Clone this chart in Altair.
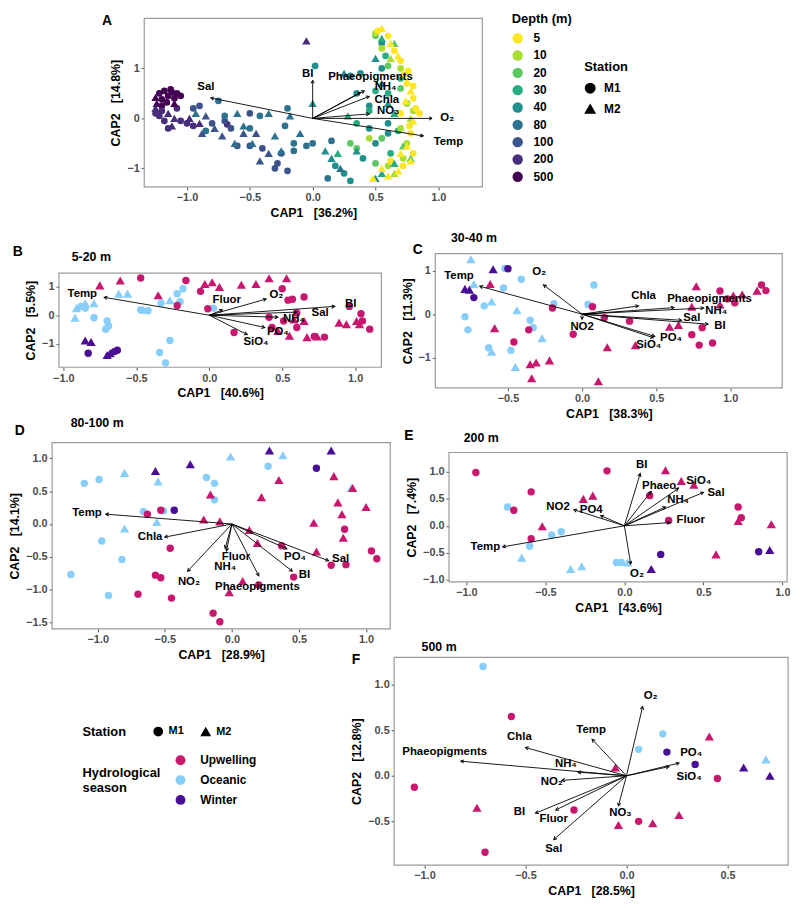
import altair as alt
import numpy as np
import pandas as pd

FONT = "Liberation Sans"

# ---------------- categories / colours ----------------
SEASON_DOMAIN = ["Upwelling", "Oceanic", "Winter"]
SEASON_COLORS = ["#C8176F", "#87CEFA", "#4A0E96"]
DEPTH_DOMAIN = ["5", "10", "20", "30", "40", "80", "100", "200", "500"]
DEPTH_COLORS = ["#FDE725", "#AADC32", "#5DC863", "#27AD81", "#21908C",
                "#2C728E", "#3B528B", "#472D7B", "#440154"]
STATION_DOMAIN = ["M1", "M2"]
STATION_SHAPES = ["circle", "triangle-up"]

# ---------------- Panel A (all depths) ----------------
A_500 = [(-1.22, 0.50, "M1"), (-1.18, 0.55, "M1"), (-1.15, 0.45, "M1"), (-1.12, 0.52, "M1"),
         (-1.10, 0.40, "M1"), (-1.20, 0.38, "M1"), (-1.25, 0.42, "M2"), (-1.16, 0.32, "M1"),
         (-1.08, 0.50, "M1"), (-1.13, 0.58, "M1"), (-1.24, 0.30, "M2"), (-1.20, 0.25, "M1"),
         (-1.10, 0.30, "M2"), (-1.05, 0.45, "M1")]
A_200 = [(-1.25, 0.20, "M2"), (-1.20, 0.15, "M1"), (-1.15, 0.10, "M2"), (-1.22, 0.05, "M1"),
         (-1.10, 0.00, "M2"), (-1.18, -0.05, "M1"), (-1.05, -0.05, "M1"), (-1.12, -0.15, "M2"),
         (-1.00, -0.10, "M1"), (-1.08, 0.20, "M1"), (-0.98, 0.00, "M2"), (-1.15, -0.20, "M1"),
         (-0.95, -0.15, "M1"), (-1.25, 0.10, "M1"), (-0.90, -0.10, "M2"), (-0.68, -0.12, "M1"),
         (-0.05, 1.55, "M2")]
A_100 = [(-0.95, 0.20, "M1"), (-0.90, 0.25, "M1"), (-0.85, 0.05, "M2"), (-0.80, -0.10, "M1"),
         (-0.78, -0.20, "M2"), (-0.70, -0.05, "M1"), (-0.65, -0.20, "M1"), (-0.55, -0.30, "M2"),
         (-0.50, -0.55, "M1"), (-0.45, -0.30, "M2"), (-0.42, -0.85, "M2"), (-0.40, -0.60, "M1"),
         (-0.35, -0.70, "M2"), (-0.28, -0.90, "M1"), (-0.25, -0.70, "M1"), (-0.20, -1.05, "M1"),
         (-0.30, -1.00, "M1"), (-0.60, -0.55, "M1"), (-0.88, -0.30, "M2"), (-0.50, 0.10, "M1"),
         (-0.72, -0.35, "M2")]
A_80 = [(-0.93, 0.10, "M2"), (-0.75, 0.35, "M1"), (-0.70, 0.05, "M1"), (-0.60, 0.10, "M2"),
        (-0.55, -0.15, "M2"), (-0.50, -0.20, "M1"), (-0.48, -0.50, "M2"), (-0.42, 0.05, "M1"),
        (-0.35, 0.10, "M2"), (-0.30, -0.35, "M2"), (-0.22, -0.15, "M1"), (-0.20, 0.20, "M1"),
        (-0.15, -0.50, "M1"), (-0.15, -0.65, "M1"), (-0.05, -0.55, "M1"), (0.00, -0.50, "M1"),
        (-0.25, -0.65, "M2"), (-0.10, -0.30, "M2"), (-0.18, 0.05, "M2"), (-0.62, -0.50, "M2"),
        (-0.85, -0.25, "M1"), (0.15, -0.45, "M1"), (0.12, -1.20, "M1"), (0.22, -1.00, "M2")]
A_40 = [(0.02, 1.05, "M1"), (0.00, 0.30, "M2"), (0.10, -0.65, "M2"), (0.15, -0.80, "M2"),
        (0.18, -0.95, "M1"), (0.25, -1.10, "M1"), (0.30, -1.25, "M1"), (0.35, -0.65, "M2"),
        (0.40, -0.80, "M1"), (0.45, -0.20, "M1"), (0.50, -0.50, "M1"), (0.30, 0.85, "M1"),
        (0.38, 0.90, "M1"), (0.45, 0.25, "M1"), (0.55, 0.70, "M2"), (0.50, 1.20, "M2"),
        (0.55, 1.50, "M1"), (0.60, 0.30, "M2"), (0.60, -0.10, "M1"), (0.50, -1.20, "M2"),
        (0.35, 0.50, "M1"), (0.25, 0.90, "M2"), (0.55, 1.00, "M1"), (0.60, -0.30, "M1")]
A_30 = [(0.28, 0.05, "M2"), (0.20, -0.70, "M2"), (0.35, -0.10, "M1"), (0.45, 0.15, "M1"),
        (0.50, 0.55, "M1"), (0.55, 1.60, "M2"), (0.58, 1.25, "M1"), (0.62, -0.70, "M1"),
        (0.65, -0.90, "M2"), (0.55, -1.10, "M2"), (0.60, 0.50, "M1"), (0.65, 0.10, "M2"),
        (0.70, 0.80, "M1"), (0.68, -0.25, "M1")]
A_20 = [(0.30, -0.50, "M1"), (0.35, -0.60, "M1"), (0.50, 1.65, "M1"), (0.65, 1.50, "M2"),
        (0.70, 0.60, "M1"), (0.72, -0.55, "M2"), (0.55, -0.40, "M1"), (0.50, -0.90, "M1"),
        (0.75, 0.30, "M1"), (0.78, -0.80, "M2"), (0.60, 1.05, "M1")]
A_10 = [(0.50, 1.70, "M1"), (0.55, 1.40, "M1"), (0.62, 1.20, "M2"), (0.70, 1.00, "M1"),
        (0.75, 0.30, "M1"), (0.78, 0.00, "M2"), (0.70, -0.20, "M1"), (0.72, -0.80, "M1"),
        (0.65, -1.10, "M2"), (0.80, 0.15, "M1"), (0.75, -0.50, "M1"), (0.60, -0.95, "M1"),
        (0.45, -0.40, "M1")]
A_5 = [(0.55, 1.80, "M2"), (0.60, 1.65, "M1"), (0.65, 1.35, "M1"), (0.70, 1.15, "M1"),
       (0.72, 0.90, "M2"), (0.75, 0.70, "M1"), (0.78, 0.55, "M2"), (0.80, 0.40, "M1"),
       (0.82, 0.20, "M1"), (0.80, -0.05, "M2"), (0.78, -0.30, "M1"), (0.75, -0.55, "M2"),
       (0.80, -0.70, "M1"), (0.72, -0.95, "M1"), (0.68, -1.05, "M2"), (0.60, -1.15, "M2"),
       (0.55, -1.00, "M2"), (0.78, -0.85, "M2"), (0.85, 0.10, "M1"), (0.70, 0.10, "M1"),
       (0.52, 1.75, "M1"), (0.62, 1.50, "M2"), (0.68, 1.25, "M2"), (0.76, 0.95, "M1"),
       (0.80, 0.65, "M1"), (0.74, 0.35, "M2"), (0.77, -0.15, "M1"), (0.70, -0.70, "M2"),
       (0.62, -0.85, "M1"), (0.48, -1.20, "M2")]
A_VEC = [("Sal", -0.81, 0.41, -0.85, 0.62), ("BI", 0.00, 0.76, -0.04, 0.88),
         ("Phaeopigments", 0.38, 0.52, 0.46, 0.83), ("NH₄", 0.41, 0.55, 0.58, 0.63),
         ("Chla", 0.45, 0.44, 0.59, 0.37), ("NO₃", 0.45, 0.09, 0.60, 0.14),
         ("O₂", 0.95, 0.00, 1.07, 0.00), ("Temp", 0.88, -0.35, 1.08, -0.47)]

# ---------------- Panel B (5-20 m) ----------------
B_UP_M1 = [(-0.47, 1.31), (-0.16, 1.22), (-0.22, 0.34), (-0.06, 0.84), (-0.01, 0.23), (0.17, -0.61),
           (0.41, -0.07), (0.50, 0.93), (0.54, 0.53), (0.57, 0.56), (0.65, 0.64), (0.51, -0.20),
           (0.60, -0.43), (0.72, -0.75), (0.79, -0.77), (0.96, 0.31), (1.04, 0.05), (1.05, -0.20),
           (1.10, -0.49), (0.43, -0.43), (0.60, 0.08)]
B_UP_M2 = [(-0.75, 1.05), (-0.61, 1.22), (-0.35, 0.70), (-0.03, 1.10), (0.02, 1.16), (0.07, 0.99),
           (0.22, 1.07), (0.32, 1.10), (0.41, 1.30), (0.53, 1.30), (0.58, -0.15), (0.65, -0.20),
           (0.55, -0.72), (0.67, -0.77), (0.74, -0.75), (0.89, -0.26), (0.94, -0.32), (1.01, -0.20),
           (1.03, -0.32), (0.47, -0.55)]
B_OC_M1 = [(-0.88, 0.31), (-0.85, 0.25), (-0.79, -0.09), (-0.70, -0.20), (-0.69, -0.38), (-0.71, -0.49),
           (-0.47, 0.19), (-0.42, 0.16), (-0.33, 0.42), (-0.22, 0.76), (-0.18, 0.93), (-0.20, 0.48),
           (-0.27, -0.89), (-0.34, -1.31), (-0.30, -1.68), (0.03, 0.25)]
B_OC_M2 = [(-0.91, 0.25), (-0.85, 0.42), (-0.79, 0.42), (-0.92, -0.09), (-0.62, 0.76), (-0.56, 0.76),
           (-0.45, 0.19), (-0.27, 0.53)]
B_WI_M1 = [(-0.83, -1.34), (-0.65, -1.28), (-0.63, -1.23)]
B_WI_M2 = [(-0.85, -0.89), (-0.81, -0.94), (-0.70, -1.40), (-0.68, -1.34)]
B_VEC = [("Temp", -0.72, 0.63, -0.87, 0.76), ("Fluor", 0.09, 0.19, 0.12, 0.53),
         ("O₂", 0.39, 0.57, 0.46, 0.70), ("BI", 0.86, 0.31, 0.97, 0.39),
         ("Sal", 0.60, 0.11, 0.76, 0.08), ("NH₄", 0.47, -0.07, 0.58, -0.13),
         ("PO₄", 0.38, -0.43, 0.47, -0.58), ("SiO₄", 0.26, -0.68, 0.32, -0.94)]

# ---------------- Panel C (30-40 m) ----------------
C_UP_M1 = [(-0.20, 0.14), (-0.36, -0.36), (-0.46, -0.64), (-0.06, -0.46), (0.07, 0.17), (0.15, -0.08),
           (0.32, -0.16), (0.74, -0.47), (0.79, -0.71), (0.81, -0.31), (0.88, -0.66), (0.93, 0.53),
           (0.98, 0.35), (1.03, 0.26), (1.21, 0.67), (1.24, 0.54)]
C_UP_M2 = [(-0.62, 0.69), (-0.59, -0.32), (-0.35, -1.15), (-0.31, -1.11), (-0.22, -1.06), (-0.34, -1.47),
           (0.11, -1.54), (0.17, -0.76), (0.36, -0.71), (0.59, -0.29), (0.65, -0.25), (0.77, 0.64),
           (0.74, 0.17), (0.93, 0.22), (1.02, 0.43), (1.18, 0.54), (1.08, 0.45)]
C_OC_M1 = [(-0.52, 1.05), (-0.41, 0.80), (-0.53, 0.60), (-0.66, 0.19), (-0.79, -0.06), (-0.77, -0.36),
           (-0.35, -0.14), (-0.33, -0.31), (-0.63, -0.77), (-0.48, -0.83), (-0.19, 0.24), (0.08, 0.67),
           (0.04, 0.22)]
C_OC_M2 = [(-0.75, 1.26), (-0.73, 0.69), (-0.61, 0.29), (-0.44, 0.09), (-0.27, -0.55), (-0.61, -0.86),
           (-0.45, -1.21)]
C_WI_M1 = [(-0.50, 1.04), (-0.73, 0.38)]
C_WI_M2 = [(-0.60, 1.03), (-0.79, 0.58), (-0.76, 0.56)]
C_VEC = [("Temp", -0.69, 0.64, -0.83, 0.88), ("O₂", -0.26, 0.67, -0.29, 0.97),
         ("Chla", 0.38, 0.19, 0.415, 0.41), ("Phaeopigments", 0.62, 0.15, 0.86, 0.35),
         ("NH₄", 0.82, 0.14, 0.905, 0.075), ("Sal", 0.67, -0.14, 0.74, -0.08),
         ("BI", 0.85, -0.23, 0.93, -0.27), ("PO₄", 0.49, -0.51, 0.60, -0.55),
         ("SiO₄", 0.48, -0.54, 0.45, -0.71), ("NO2", 0.00, -0.12, 0.00, -0.30)]

# ---------------- Panel D (80-100 m) ----------------
D_UP_M1 = [(-0.63, 0.15), (-0.53, 0.21), (-0.46, -0.37), (-0.57, -0.78), (-0.53, -0.82), (-0.70, -1.07),
           (-0.45, -1.13), (-0.14, -1.36), (-0.09, -1.49), (0.20, -0.93), (0.37, -0.33), (0.46, -0.81),
           (0.74, -0.63), (0.85, -0.62), (0.84, -0.08), (1.04, -0.41), (1.08, -0.53)]
D_UP_M2 = [(-0.16, 0.45), (-0.21, 0.07), (-0.09, 0.04), (0.13, -0.09), (0.19, -0.29), (0.08, -0.87),
           (-0.02, -1.04), (0.22, 0.41), (0.35, 0.67), (0.76, 0.73), (0.79, 0.33), (0.82, 0.15),
           (0.83, -0.21), (0.63, -0.42), (0.61, 0.02), (1.00, 0.26), (0.90, 0.55)]
D_OC_M1 = [(-1.10, 0.62), (-0.99, 0.68), (-0.19, 0.71), (-0.13, 0.62), (-0.13, 0.37), (0.27, 0.88),
           (-0.66, 0.19), (-0.51, 0.20), (-0.97, -0.26), (-0.82, -0.54), (-1.20, -0.77), (-0.92, -1.09)]
D_OC_M2 = [(-0.80, -0.07), (-0.80, 0.78), (-0.55, 0.65), (-0.56, 0.03), (-0.01, 1.03), (0.38, 1.05),
           (0.89, 0.55)]
D_WI_M1 = [(-0.43, 0.21), (0.63, 0.85)]
D_WI_M2 = [(-0.57, 0.81), (-0.31, 0.91), (0.28, 1.12), (0.74, 1.12)]
D_VEC = [("Temp", -0.94, 0.15, -1.08, 0.16), ("Chla", -0.50, -0.20, -0.61, -0.205),
         ("NO₂", -0.33, -0.72, -0.32, -0.88), ("Fluor", -0.04, -0.41, 0.03, -0.50),
         ("NH₄", -0.05, -0.37, -0.05, -0.655), ("Phaeopigments", 0.20, -0.79, 0.19, -0.955),
         ("PO₄", 0.41, -0.38, 0.47, -0.50), ("BI", 0.45, -0.72, 0.54, -0.78),
         ("Sal", 0.72, -0.56, 0.81, -0.53)]

# ---------------- Panel E (200 m) ----------------
E_UP_M1 = [(-0.94, 0.99), (-0.59, 0.63), (-0.70, 0.29), (-0.11, 1.02), (0.16, 0.56), (0.28, 0.10),
           (0.72, 0.35), (0.74, 0.15), (-0.59, -0.24)]
E_UP_M2 = [(-0.26, 0.50), (-0.20, 0.56), (-0.52, -0.01), (0.26, 1.03), (0.36, 0.83), (0.44, 0.76),
           (0.72, 0.09), (0.93, 0.03), (0.58, -0.53)]
E_OC_M1 = [(-0.74, 0.35), (-0.46, -0.17), (-0.40, -0.11), (-0.60, -0.38), (-0.05, -0.68), (-0.02, -0.68)]
E_OC_M2 = [(-0.65, -0.59), (-0.34, -0.80), (-0.27, -0.75), (0.02, -0.68)]
E_WI_M1 = [(0.23, -0.53), (0.85, -0.48)]
E_WI_M2 = [(0.17, -0.80), (0.92, -0.45)]
E_VEC = [("BI", 0.10, 0.97, 0.11, 1.12), ("Phaeo.", 0.17, 0.64, 0.23, 0.73),
         ("SiO₄", 0.34, 0.69, 0.47, 0.84), ("Sal", 0.50, 0.62, 0.58, 0.61),
         ("NH₄", 0.26, 0.35, 0.34, 0.47), ("Fluor", 0.29, 0.06, 0.42, 0.10),
         ("NO2", -0.32, 0.30, -0.42, 0.35), ("PO4", -0.15, 0.19, -0.21, 0.29),
         ("Temp", -0.77, -0.39, -0.88, -0.39), ("O₂", 0.04, -0.71, 0.08, -0.89)]

# ---------------- Panel F (500 m) ----------------
F_UP_M1 = [(-0.57, 0.65), (-1.05, -0.125), (-0.70, -0.84), (-0.26, -0.375), (0.06, -0.50), (0.45, -0.03)]
F_UP_M2 = [(-0.74, -0.35), (-0.055, 0.09), (-0.04, -0.54), (0.13, -0.52), (0.26, -0.43), (0.41, 0.43)]
F_OC_M1 = [(-0.71, 1.20), (0.06, 0.29), (0.18, 0.46)]
F_OC_M2 = [(0.69, 0.18)]
F_WI_M1 = [(0.20, 0.26), (0.34, 0.125)]
F_WI_M2 = [(0.58, 0.09), (0.71, 0.00)]
F_VEC = [("O₂", 0.08, 0.76, 0.12, 0.88), ("Temp", -0.17, 0.40, -0.175, 0.50),
         ("Chla", -0.50, 0.31, -0.53, 0.42), ("Phaeopigments", -0.82, 0.16, -0.90, 0.26),
         ("NH₄", -0.24, 0.04, -0.30, 0.125), ("NO₂", -0.32, -0.05, -0.37, -0.07),
         ("BI", -0.45, -0.41, -0.53, -0.40), ("Fluor", -0.35, -0.375, -0.36, -0.48),
         ("Sal", -0.36, -0.70, -0.36, -0.80), ("NO₃", -0.04, -0.33, -0.03, -0.41),
         ("PO₄", 0.26, 0.14, 0.32, 0.25), ("SiO₄", 0.21, 0.10, 0.31, -0.01)]

# ---------------- canvas geometry (layout only) ----------------
W, H = 788, 891


def tx(r):
    return r * 0.99 - 2


def ty(r):
    return r * 0.99 - 5


ONE = pd.DataFrame({"s": [0]})
CHEVRON = "M-0.55,1L0,0L0.55,1"
SP = "\u00a0\u00a0\u00a0"


def season_df(up1, up2, oc1, oc2, wi1, wi2):
    rows = []
    for season, st, lst in [("Oceanic", "M1", oc1), ("Oceanic", "M2", oc2),
                            ("Winter", "M1", wi1), ("Winter", "M2", wi2),
                            ("Upwelling", "M1", up1), ("Upwelling", "M2", up2)]:
        for x, y in lst:
            rows.append({"x": x, "y": y, "season": season, "station": st})
    return pd.DataFrame(rows)


def depth_df():
    rows = []
    for d, lst in [("500", A_500), ("200", A_200), ("100", A_100), ("80", A_80), ("40", A_40),
                   ("30", A_30), ("20", A_20), ("10", A_10), ("5", A_5)]:
        for x, y, st in lst:
            rows.append({"x": x, "y": y, "depth": d, "station": st})
    return pd.DataFrame(rows)


def panel(pts, vec, xdom, ydom, box, xticks, yticks, xfmt, yfmt, xtitle, ytitle,
          tag, tag_off, sub, sub_off, color, shape, sizes):
    x0, x1, y0, y1 = tx(box[0]), tx(box[1]), ty(box[2]), ty(box[3])
    sx = (x1 - x0) / (xdom[1] - xdom[0])
    sy = (y1 - y0) / (ydom[1] - ydom[0])
    vdf = pd.DataFrame(vec, columns=["name", "x", "y", "lx", "ly"])
    vdf["x0"] = 0.0
    vdf["y0"] = 0.0
    vdf["ang"] = np.degrees(np.arctan2(vdf["x"] * sx, vdf["y"] * sy)) % 360
    ldf = pd.DataFrame({"x": vdf["lx"], "y": vdf["ly"], "name": vdf["name"]})
    frame = pd.DataFrame({"x": [xdom[0]], "x2": [xdom[1]], "y": [ydom[0]], "y2": [ydom[1]]})
    X = alt.X("x:Q", scale=alt.Scale(domain=xdom, range=[x0, x1], nice=False, zero=False),
              axis=alt.Axis(values=xticks, format=xfmt, title=xtitle, orient="bottom",
                            offset=y1 - H))
    Y = alt.Y("y:Q", scale=alt.Scale(domain=ydom, range=[y1, y0], nice=False, zero=False),
              axis=alt.Axis(values=yticks, format=yfmt, title=ytitle, orient="left",
                            offset=-x0))
    border = alt.Chart(frame).mark_rect(fillOpacity=0, stroke="#9a9a9a", strokeWidth=1.2).encode(
        x=X, x2="x2:Q", y=Y, y2="y2:Q")
    circ = alt.Chart(pts[pts["station"] == "M1"]).mark_point(
        filled=True, opacity=1, size=sizes[0]).encode(x=X, y=Y, color=color, shape=shape)
    tri = alt.Chart(pts[pts["station"] == "M2"]).mark_point(
        filled=True, opacity=1, size=sizes[1]).encode(x=X, y=Y, color=color, shape=shape)
    rules = alt.Chart(vdf).mark_rule(color="black", strokeWidth=0.9).encode(
        x=X, y=Y, x2="x0:Q", y2="y0:Q")
    heads = alt.Chart(vdf).mark_point(shape=CHEVRON, filled=False, color="black",
                                      strokeWidth=1, size=36, opacity=1).encode(
        x=X, y=Y, angle=alt.Angle("ang:Q", scale=None))
    labels = alt.Chart(ldf).mark_text(font=FONT, fontSize=11.5, fontWeight="bold",
                                      color="black").encode(x=X, y=Y, text="name:N")
    tag_l = alt.Chart(ONE).mark_text(font=FONT, fontSize=14, fontWeight="bold", color="black",
                                     align="center", baseline="middle").encode(
        x=alt.value(tx(box[0] + tag_off[0])), y=alt.value(ty(box[2] + tag_off[1])),
        text=alt.value(tag))
    layers = [border, circ, tri, rules, heads, labels, tag_l]
    if sub:
        sub_l = alt.Chart(ONE).mark_text(font=FONT, fontSize=12.5, fontWeight="bold", color="black",
                                         align="left", baseline="middle").encode(
            x=alt.value(tx(box[0] + sub_off[0])), y=alt.value(ty(box[2] + sub_off[1])),
            text=alt.value(sub))
        layers.append(sub_l)
    return alt.layer(*layers)


# ---------------- encodings ----------------
depth_color = alt.Color("depth:N", scale=alt.Scale(domain=DEPTH_DOMAIN, range=DEPTH_COLORS),
                        legend=alt.Legend(title="Depth (m)", orient="none",
                                          legendX=tx(512), legendY=ty(4),
                                          symbolType="circle", symbolSize=110, rowPadding=5.5,
                                          labelOffset=10, titlePadding=6))
a_shape = alt.Shape("station:N", scale=alt.Scale(domain=STATION_DOMAIN, range=STATION_SHAPES),
                    legend=alt.Legend(title="Station", orient="none",
                                      legendX=tx(586), legendY=ty(53),
                                      symbolSize=90, symbolFillColor="black",
                                      symbolStrokeColor="black", rowPadding=5, labelOffset=8,
                                      titlePadding=8))
season_scale = alt.Scale(domain=SEASON_DOMAIN, range=SEASON_COLORS)
station_scale = alt.Scale(domain=STATION_DOMAIN, range=STATION_SHAPES)
season_color = alt.Color("season:N", scale=season_scale,
                         legend=alt.Legend(title=["Hydrological", "season"], orient="none",
                                           legendX=tx(74), legendY=ty(760), titleOrient="left",
                                           titleAnchor="middle", symbolType="circle",
                                           symbolSize=100, rowPadding=8, labelOffset=14,
                                           titlePadding=14))
low_shape = alt.Shape("station:N", scale=station_scale,
                      legend=alt.Legend(title="Station", orient="none",
                                        legendX=tx(74), legendY=ty(731),
                                        direction="horizontal", titleOrient="left",
                                        symbolSize=70, symbolFillColor="black",
                                        symbolStrokeColor="black", labelFontSize=11,
                                        titlePadding=26, columnPadding=14, labelOffset=5))
season_color_nl = alt.Color("season:N", scale=season_scale, legend=None)
low_shape_nl = alt.Shape("station:N", scale=station_scale, legend=None)

TX1 = [-1.0, -0.5, 0.0, 0.5, 1.0]
SZ_A = [45, 72]
SZ = [56, 88]

A_chart = panel(depth_df(), A_VEC, [-1.34, 1.35], [-1.37, 2.0], (137, 482, 9, 181),
                TX1, [-1, 0, 1], ".1f", "d", "CAP1" + SP + "[36.2%]", "CAP2" + SP + "[14.8%]",
                "A", (-38, 3), None, None, depth_color, a_shape, SZ_A)
B_chart = panel(season_df(B_UP_M1, B_UP_M2, B_OC_M1, B_OC_M2, B_WI_M1, B_WI_M2), B_VEC,
                [-1.03, 1.18], [-1.83, 1.48], (50, 379, 269, 365), TX1, [-1, 0, 1], ".1f", "d",
                "CAP1" + SP + "[40.6%]", "CAP2" + SP + "[5.5%]",
                "B", (-42, -22), "5-20 m", (13, -16), season_color, low_shape, SZ)
C_chart = panel(season_df(C_UP_M1, C_UP_M2, C_OC_M1, C_OC_M2, C_WI_M1, C_WI_M2), C_VEC,
                [-0.99, 1.35], [-1.69, 1.39], (434, 788, 249, 386), [-0.5, 0.0, 0.5, 1.0],
                [-1, 0, 1], ".1f", "d", "CAP1" + SP + "[38.3%]", "CAP2" + SP + "[11.3%]",
                "C", (-18, -4), "30-40 m", (16, -16), season_color_nl, low_shape_nl, SZ)
D_chart = panel(season_df(D_UP_M1, D_UP_M2, D_OC_M1, D_OC_M2, D_WI_M1, D_WI_M2), D_VEC,
                [-1.34, 1.18], [-1.60, 1.24], (43, 388, 442, 632), TX1,
                [-1.5, -1.0, -0.5, 0.0, 0.5, 1.0], ".1f", ".1f",
                "CAP1" + SP + "[28.9%]", "CAP2" + SP + "[14.1%]",
                "D", (-33, -12), "80-100 m", (19, -20), season_color_nl, low_shape_nl, SZ)
E_chart = panel(season_df(E_UP_M1, E_UP_M2, E_OC_M1, E_OC_M2, E_WI_M1, E_WI_M2), E_VEC,
                [-1.11, 1.03], [-1.04, 1.36], (448, 793, 452, 584), TX1,
                [-1.0, -0.5, 0.0, 0.5, 1.0], ".1f", ".1f",
                "CAP1" + SP + "[43.6%]", "CAP2" + SP + "[7.4%]",
                "E", (-41, -17), "200 m", (15, -15), season_color_nl, low_shape_nl, SZ)
F_chart = panel(season_df(F_UP_M1, F_UP_M2, F_OC_M1, F_OC_M2, F_WI_M1, F_WI_M2), F_VEC,
                [-1.15, 0.80], [-0.98, 1.30], (392, 794, 661, 873), [-1.0, -0.5, 0.0, 0.5],
                [-0.5, 0.0, 0.5, 1.0], ".1f", ".1f",
                "CAP1" + SP + "[28.5%]", "CAP2" + SP + "[12.8%]",
                "F", (-39, 3), "500 m", (28, -11), season_color_nl, low_shape_nl, SZ)

chart = alt.layer(A_chart, B_chart, C_chart, D_chart, E_chart, F_chart).resolve_scale(
    x="independent", y="independent", color="independent", shape="independent"
).properties(
    width=W, height=H, padding={"left": 0, "top": 0, "right": 0, "bottom": 0}
).configure(font=FONT).configure_view(strokeWidth=0).configure_axis(
    labelFont=FONT, labelFontSize=11, labelColor="#4d4d4d", labelFontWeight="bold",
    titleFont=FONT, titleFontSize=12.5, titleFontWeight="bold", titleColor="black",
    domain=False, grid=False, tickColor="#4d4d4d", tickSize=3, labelPadding=2, titlePadding=4
).configure_legend(
    titleFont=FONT, labelFont=FONT, titleFontSize=13, titleFontWeight="bold", titleColor="black",
    labelFontSize=12, labelFontWeight="bold", labelColor="black"
)

chart.save("out.html", embed_options={"renderer": "svg", "actions": False})
